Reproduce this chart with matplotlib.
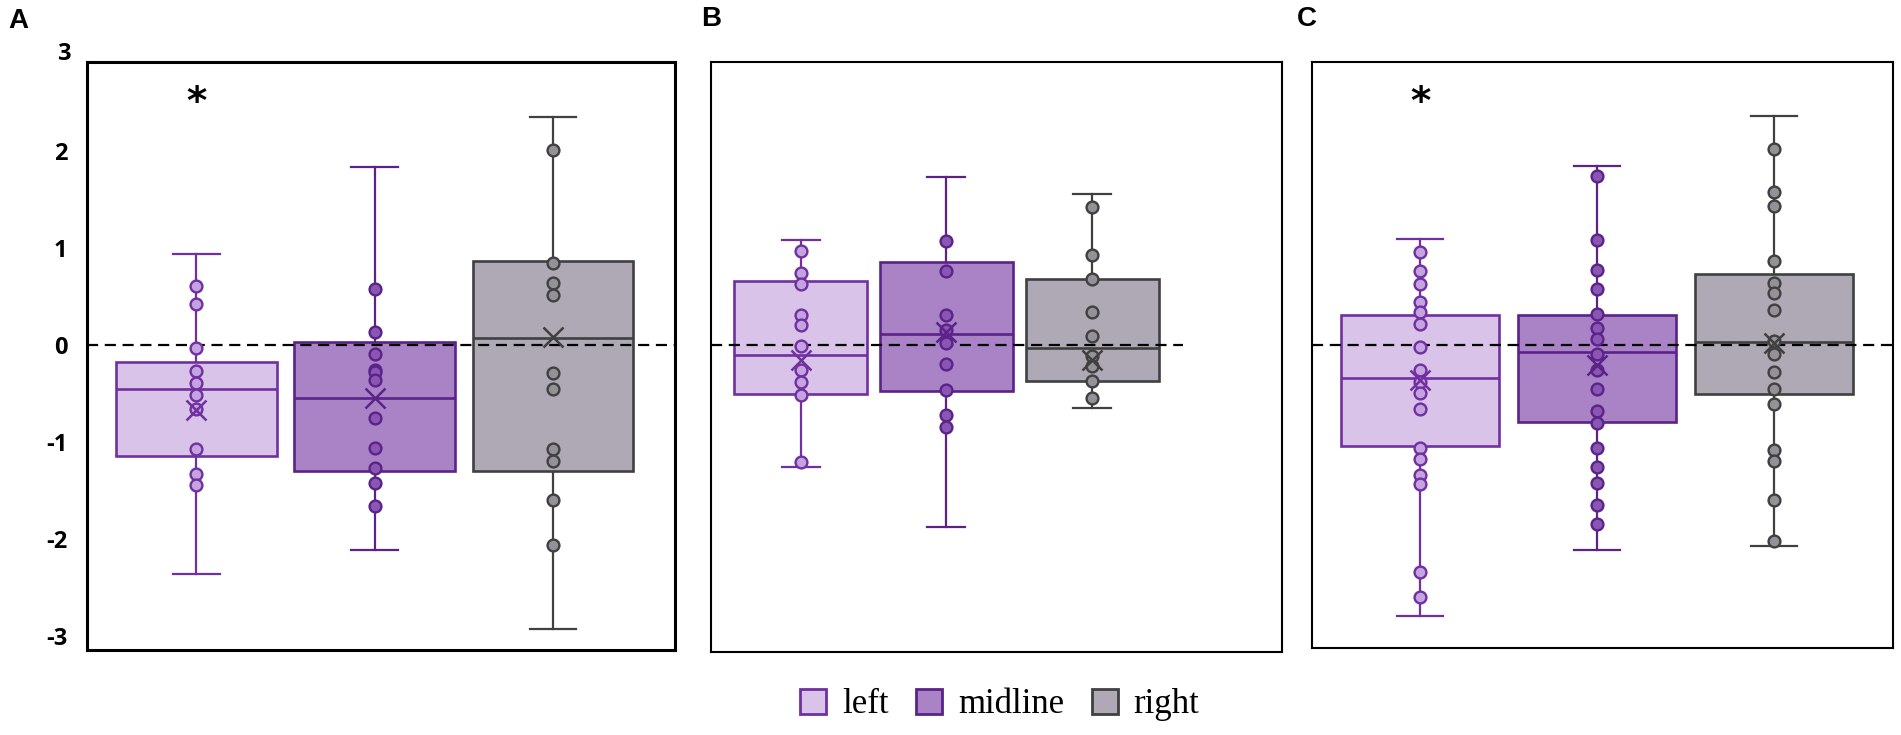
import matplotlib.pyplot as plt
from matplotlib.patches import Patch

groups = ["left", "midline", "right"]
panel_names = ["A", "B", "C"]

# box statistics per panel, order: left, midline, right
A_lo = [-2.36, -2.11, -2.92]
A_q1 = [-1.14, -1.29, -1.29]
A_med = [-0.45, -0.54, 0.08]
A_q3 = [-0.17, 0.03, 0.87]
A_hi = [0.94, 1.84, 2.35]
A_mean = [-0.67, -0.54, 0.09]
A_pts = [
    [0.61, 0.43, -0.03, -0.26, -0.39, -0.51, -0.66, -1.07, -1.33, -1.44],
    [0.58, 0.14, -0.09, -0.25, -0.27, -0.36, -0.75, -1.06, -1.26, -1.42, -1.66],
    [2.01, 0.85, 0.64, 0.52, -0.28, -0.45, -1.07, -1.19, -1.59, -2.06],
]

B_lo = [-1.26, -1.88, -0.65]
B_q1 = [-0.50, -0.47, -0.37]
B_med = [-0.10, 0.11, -0.03]
B_q3 = [0.66, 0.86, 0.68]
B_hi = [1.08, 1.73, 1.56]
B_mean = [-0.15, 0.14, -0.15]
B_pts = [
    [0.97, 0.74, 0.63, 0.31, 0.21, -0.01, -0.26, -0.38, -0.51, -1.21],
    [1.07, 0.76, 0.31, 0.16, 0.02, -0.19, -0.46, -0.72, -0.84],
    [1.43, 0.93, 0.68, 0.34, 0.09, -0.11, -0.22, -0.37, -0.55],
]

C_lo = [-2.79, -2.11, -2.07]
C_q1 = [-1.04, -0.79, -0.50]
C_med = [-0.34, -0.07, 0.03]
C_q3 = [0.31, 0.31, 0.73]
C_hi = [1.10, 1.85, 2.36]
C_mean = [-0.36, -0.20, 0.02]
C_pts = [
    [0.96, 0.77, 0.63, 0.45, 0.34, 0.22, -0.02, -0.25, -0.38, -0.49, -0.66,
     -1.06, -1.17, -1.34, -1.43, -2.34, -2.59],
    [1.74, 1.09, 0.78, 0.58, 0.32, 0.18, 0.06, -0.09, -0.25, -0.45, -0.68,
     -0.80, -1.06, -1.25, -1.42, -1.65, -1.84],
    [2.02, 1.58, 1.44, 0.87, 0.64, 0.54, 0.36, 0.04, -0.09, -0.28, -0.45,
     -0.61, -1.08, -1.19, -1.59, -2.02],
]

significant = [True, False, True]  # star above "left" box
star_y = 2.5
yticks = [-3, -2, -1, 0, 1, 2, 3]

face = ["#d9c3e8", "#a983c6", "#aea9b4"]
edge = ["#7030a0", "#5b2388", "#404040"]
dot_face = ["#c4a3e0", "#8a56b4", "#959199"]

panels = [
    (A_lo, A_q1, A_med, A_q3, A_hi, A_mean, A_pts),
    (B_lo, B_q1, B_med, B_q3, B_hi, B_mean, B_pts),
    (C_lo, C_q1, C_med, C_q3, C_hi, C_mean, C_pts),
]

rects = [[0.0458, 0.1156, 0.3093, 0.800],
         [0.3740, 0.1129, 0.3004, 0.8027],
         [0.6902, 0.1184, 0.3056, 0.7973]]
xlims = [(0.386, 3.686), (0.386, 4.30), (0.39, 3.67)]
ylims = [(-3.14, 2.92), (-3.165, 2.92), (-3.12, 2.92)]
widths = [0.9, 0.915, 0.893]
frame_lw = [2.2, 1.5, 1.5]

fig = plt.figure(figsize=(19.01, 7.35), dpi=100)
pos = [1, 2, 3]

for k, (lo, q1, med, q3, hi, mean, pts) in enumerate(panels):
    ax = fig.add_axes(rects[k])
    stats = []
    for i in range(3):
        stats.append(dict(whislo=lo[i], q1=q1[i], med=med[i], q3=q3[i],
                          whishi=hi[i], mean=mean[i], fliers=[]))
    bp = ax.bxp(stats, positions=pos, widths=widths[k], capwidths=0.26,
                patch_artist=True, showmeans=True, showfliers=False,
                manage_ticks=False)
    for i in range(3):
        bp["boxes"][i].set(facecolor=face[i], edgecolor=edge[i], linewidth=1.9, zorder=2)
        bp["medians"][i].set(color=edge[i], linewidth=1.9, zorder=2.5)
        for ln in bp["whiskers"][2 * i:2 * i + 2] + bp["caps"][2 * i:2 * i + 2]:
            ln.set(color=edge[i], linewidth=1.6, zorder=1.5)
        bp["means"][i].set(marker="x", markersize=15, markeredgewidth=1.8,
                           markeredgecolor=edge[i], markerfacecolor="none", zorder=5)
        ax.plot([pos[i]] * len(pts[i]), pts[i], "o", ms=8.5, mfc=dot_face[i],
                mec=edge[i], mew=1.7, zorder=4)

    if k == 1:
        ax.hlines(0, xlims[k][0], 3.62, colors="black", linestyles=(0, (5, 3)),
                  linewidth=1.6, zorder=3)
    else:
        ax.axhline(0, color="black", ls=(0, (5, 3)), lw=1.6, zorder=3)

    if significant[k]:
        ax.text(pos[0], star_y, "*", ha="center", va="center", fontsize=28,
                fontweight="bold", family="DejaVu Sans")

    ax.set_xlim(*xlims[k])
    ax.set_ylim(*ylims[k])
    ax.set_xticks([])
    for s in ax.spines.values():
        s.set_linewidth(frame_lw[k])
        s.set_color("black")

    if k == 0:
        shown = [t for t in yticks if ylims[k][0] <= t <= ylims[k][1]]
        ax.set_yticks(shown)
        ax.set_yticklabels([str(t) for t in shown], fontsize=17,
                           fontweight="bold", family="Open Sans")
        ax.tick_params(axis="y", length=0, pad=14)
        # top label sits above the frame
        ax.text(-17 / 588, yticks[-1], str(yticks[-1]), transform=ax.get_yaxis_transform(),
                ha="right", va="center", fontsize=17, fontweight="bold",
                family="Open Sans", clip_on=False)
    else:
        ax.set_yticks([])

label_xy = [(18, 21), (711, 19), (1307, 19)]
for name, (px, py) in zip(panel_names, label_xy):
    fig.text(px / 1901, 1 - py / 735, name, ha="center", va="center",
             fontsize=20, fontweight="bold", family="Liberation Sans")

handles = [Patch(facecolor=face[i], edgecolor=edge[i], linewidth=2) for i in range(3)]
fig.legend(handles, groups, loc="center", bbox_to_anchor=(0.526, 0.041), ncol=3,
           frameon=False, prop={"family": "Liberation Serif", "size": 25},
           handlelength=0.75, handleheight=0.75, handletextpad=0.45,
           columnspacing=0.8, borderpad=0)

fig.savefig("out.png", dpi=100)
